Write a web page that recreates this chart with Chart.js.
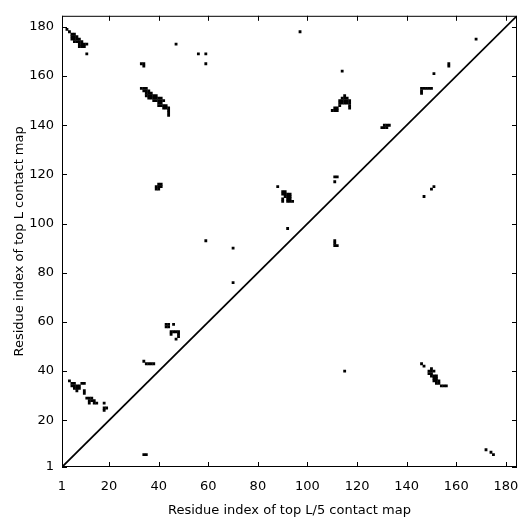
<!DOCTYPE html>
<html>
<head>
<meta charset="utf-8">
<script src="https://cdn.jsdelivr.net/npm/chart.js@4/dist/chart.umd.min.js"></script>
<style>
  html, body { margin: 0; padding: 0; background: #fff; }
  #wrap { width: 531px; height: 531px; }
</style>
</head>
<body>
<div id="wrap"><canvas id="contacts"></canvas></div>
<script>
// axis range and ticks
const axisMin = 1;
const axisMax = 184.5;
const tickValues = [1, 20, 40, 60, 80, 100, 120, 140, 160, 180];

// contacts, as [L/5 index, L index]
const nTermHelix = [[3,179],[4,178],[5,177],[5,176],[5,175],[6,177],[6,176],[6,175],[6,174],[7,176],[7,175],[7,174],
  [8,175],[8,174],[8,173],[8,172],[9,174],[9,173],[9,172],[10,173],[10,172],[11,173],[11,169]];
const strandPair1 = [[33,165],[34,165],[34,164],[33,155],[34,155],[34,154],[35,155],[35,154],[35,153],[35,152],
  [36,154],[36,153],[36,152],[36,151],[37,153],[37,152],[37,151],[38,152],[38,151],[38,150],
  [39,152],[39,151],[39,150],[40,151],[40,150],[40,149],[40,148],[41,151],[41,150],[41,149],[41,148],
  [42,150],[42,148],[42,147],[43,148],[43,147],[44,147],[44,146],[44,145],[44,144]];
const strandPair2 = [[40,116],[41,116],[39,115],[40,115],[41,115],[39,114],[40,114]];
const loopContacts = [[43,59],[44,59],[43,58],[44,58],[46,59],[45,56],[46,56],[47,56],[48,56],[45,55],[48,55],[48,54],[47,53],
  [34,44],[35,43],[36,43],[37,43],[38,43],[34,6],[35,6]];
const helixPair = [[4,36],[5,35],[6,35],[5,34],[6,34],[7,34],[8,34],[6,33],[7,33],[8,33],[7,32],[9,35],[10,35],[10,32],[10,31],
  [11,29],[12,29],[13,29],[12,28],[13,28],[14,28],[12,27],[14,27],[15,27],[18,27],[18,25],[19,25],[18,24]];
const middleBlock = [[88,115],[90,113],[91,113],[90,112],[91,112],[92,112],[93,112],[91,111],[92,111],[93,111],
  [90,110],[92,110],[93,110],[90,109],[92,109],[93,109],[94,109],[92,98],
  [111,119],[112,119],[111,117],[111,93],[111,92],[111,91],[112,91]];
const cTermBlock = [[114,162],[110,146],[111,146],[112,146],[111,147],[112,147],[113,148],[113,149],[113,150],[114,149],
  [114,150],[114,151],[115,149],[115,150],[115,151],[115,152],[116,149],[116,150],[116,151],[117,150],[117,149],[117,148],[117,147],
  [130,139],[131,139],[132,139],[131,140],[132,140],[133,140],
  [146,155],[147,155],[148,155],[149,155],[150,155],[146,154],[146,153]];
const cTermLow = [[146,43],[147,42],[150,41],[149,40],[150,40],[151,40],[149,39],[150,39],[150,38],[151,38],[152,38],
  [151,37],[152,37],[151,36],[152,36],[153,36],[152,35],[153,35],[154,34],[155,34],[156,34]];
const scattered = [[47,173],[56,169],[59,169],[59,165],[97,178],[168,175],[157,165],[157,164],[151,161],
  [59,93],[70,90],[70,76],[150,114],[151,115],[147,111],[115,40],[172,8],[174,7],[175,6]];

const contacts = [].concat(nTermHelix, strandPair1, strandPair2, loopContacts, helixPair,
  middleBlock, cTermBlock, cTermLow, scattered);

const frameTicks = {
  id: 'frameTicks',
  afterDraw(chart) {
    const {ctx, chartArea: a, scales: {x, y}} = chart;
    ctx.save();
    ctx.strokeStyle = '#000';
    ctx.lineWidth = 1;
    ctx.strokeRect(a.left + 0.5, a.top + 0.5, a.right - a.left - 1, a.bottom - a.top - 1);
    ctx.beginPath();
    tickValues.forEach(v => {
      const px = Math.round(x.getPixelForValue(v)) + 0.5;
      const py = Math.round(y.getPixelForValue(v)) + 0.5;
      ctx.moveTo(px, a.bottom); ctx.lineTo(px, a.bottom - 5);
      ctx.moveTo(px, a.top); ctx.lineTo(px, a.top + 5);
      ctx.moveTo(a.left, py); ctx.lineTo(a.left + 5, py);
      ctx.moveTo(a.right, py); ctx.lineTo(a.right - 5, py);
    });
    ctx.stroke();
    ctx.restore();
  }
};

const fixTicks = scale => { scale.ticks = tickValues.map(v => ({value: v})); };

new Chart(document.getElementById('contacts'), {
  type: 'scatter',
  data: {
    datasets: [
      {
        data: contacts.map(p => ({x: p[0], y: p[1]})),
        pointStyle: 'rect',
        pointRadius: 2.0,
        backgroundColor: '#000',
        borderWidth: 0
      },
      {
        type: 'line',
        data: [{x: axisMin, y: axisMin}, {x: axisMax, y: axisMax}],
        borderColor: '#000',
        borderWidth: 1.8,
        pointRadius: 0
      }
    ]
  },
  plugins: [frameTicks],
  options: {
    responsive: true,
    maintainAspectRatio: false,
    animation: false,
    events: [],
    layout: { padding: { top: 14, right: 14, left: 0, bottom: 0 } },
    plugins: { legend: { display: false }, tooltip: { enabled: false } },
    scales: {
      x: {
        type: 'linear',
        min: axisMin,
        max: axisMax,
        afterBuildTicks: fixTicks,
        afterFit: s => { s.height = 64; },
        grid: { display: false, drawTicks: false },
        border: { display: false },
        ticks: { color: '#000', padding: 12, maxRotation: 0, autoSkip: false,
          font: { family: 'DejaVu Sans', size: 13 } },
        title: { display: true, text: 'Residue index of top L/5 contact map', color: '#000',
          padding: { top: 0, bottom: 13 }, font: { family: 'DejaVu Sans', size: 13 } }
      },
      y: {
        type: 'linear',
        min: axisMin,
        max: axisMax,
        afterBuildTicks: fixTicks,
        afterFit: s => { s.width = 62; },
        grid: { display: false, drawTicks: false },
        border: { display: false },
        ticks: { color: '#000', padding: 8, autoSkip: false,
          font: { family: 'DejaVu Sans', size: 13 } },
        title: { display: true, text: 'Residue index of top L contact map', color: '#000',
          padding: { top: 12, bottom: 0 }, font: { family: 'DejaVu Sans', size: 13 } }
      }
    }
  }
});
</script>
</body>
</html>
